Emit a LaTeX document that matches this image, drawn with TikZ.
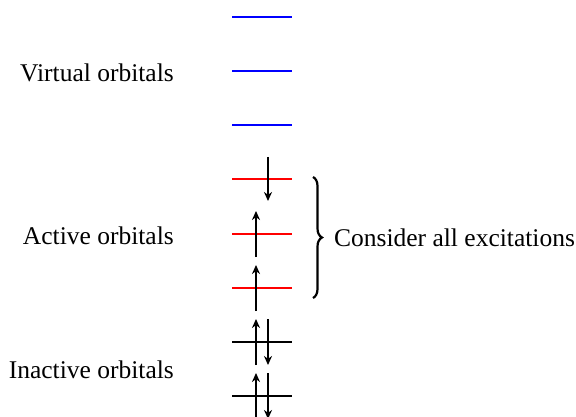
\documentclass[tikz,border=0pt]{standalone}
\usepackage{fontspec}
\setmainfont{Liberation Serif}
\usetikzlibrary{arrows.meta,decorations.pathreplacing}

\tikzset{
  level/.style={line width=1.5pt},
  spin/.style={line width=1.6pt, -{Stealth[length=9pt,width=8pt]}},
  label/.style={left, font=\fontsize{25.5}{30}\selectfont, inner sep=0pt},
}

\begin{document}
\begin{tikzpicture}[x=1pt,y=-1pt]
    \useasboundingbox (0,0) rectangle (576,417);
    % 虚轨道
    \foreach \y in {17,71,125}
        \draw[level, blue] (232,\y) -- (292,\y);
    % 活性轨道
    \foreach \y in {179,234,288}
        \draw[level, red] (232,\y) -- (292,\y);
    % 非活性轨道
    \foreach \y in {342,396}
        \draw[level, black] (232,\y) -- (292,\y);
    % 电子
    \draw[spin] (268,157) -- (268,201);
    \draw[spin] (256,257) -- (256,211);
    \draw[spin] (256,311) -- (256,265);
    \foreach \y in {342,396} {
        \draw[spin] (256,\y+23) -- (256,\y-23);
        \draw[spin] (268,\y-23) -- (268,\y+23);
    }
    % 标签
    \node[label] (virt) at (174,73) {Virtual orbitals};
    \node[label] (act) at (174,236) {Active orbitals};
    \node[label] (inact) at (174,370) {Inactive orbitals};
    % 括号
    \draw[line width=2.2pt, decorate, decoration={brace, amplitude=9pt}]
        (313,177) -- (313,298)
        node[midway, right=20pt, font=\fontsize{25.5}{30}\selectfont, inner sep=0pt] (exc) {Consider all excitations};
\end{tikzpicture}
\end{document}
